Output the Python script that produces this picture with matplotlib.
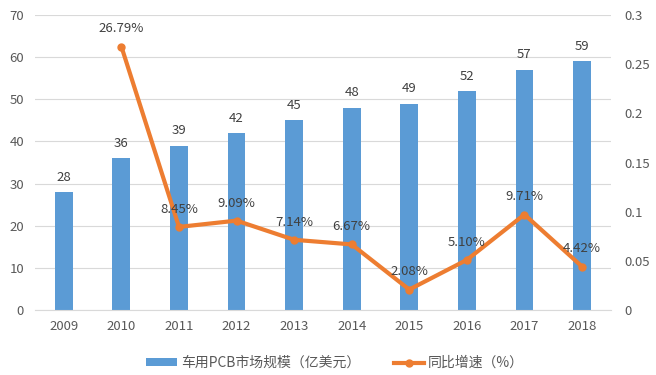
import numpy as np
import matplotlib.pyplot as plt
from matplotlib.ticker import FuncFormatter

plt.rcParams['font.family'] = ['Noto Sans CJK SC', 'DejaVu Sans']

years = ['2009', '2010', '2011', '2012', '2013', '2014', '2015', '2016', '2017', '2018']
market = [28, 36, 39, 42, 45, 48, 49, 52, 57, 59]
growth_years = years[1:]
growth = [0.2679, 0.0845, 0.0909, 0.0714, 0.0667, 0.0208, 0.0510, 0.0971, 0.0442]

bar_color = '#5b9bd5'
line_color = '#ed7d31'
text_color = '#595959'
grid_color = '#d9d9d9'

fig = plt.figure(figsize=(6.56, 3.75), dpi=100)
ax = fig.add_axes([0.0534, 0.1733, 0.8777, 0.7867])
ax2 = ax.twinx()

x = np.arange(len(years))
bars = ax.bar(x, market, width=0.31, color=bar_color, zorder=2,
              label='车用PCB市场规模（亿美元）')
for xi, v in zip(x, market):
    ax.annotate(str(v), (xi, v), xytext=(0, 6), textcoords='offset points',
                ha='center', va='bottom', fontsize=9.5, color='#404040')

ax.set_xlim(-0.5, len(years) - 0.5)
ax.set_ylim(0, 70)
ax.set_yticks(np.arange(0, 71, 10))
ax.set_xticks(x)
ax.set_xticklabels(years)
ax.grid(axis='y', color=grid_color, linewidth=0.8, zorder=0)
ax.set_axisbelow(True)

gx = x[1:]
line, = ax2.plot(gx, growth, color=line_color, linewidth=3, marker='o',
                 markersize=5, zorder=3, label='同比增速（%）')
for xi, v in zip(gx, growth):
    ax2.annotate(f'{v * 100:.2f}%', (xi, v), xytext=(0, 8), textcoords='offset points',
                 ha='center', va='bottom', fontsize=9.5, color='#404040')
ax2.set_ylim(0, 0.3)
ax2.set_yticks(np.arange(0, 0.301, 0.05))
ax2.yaxis.set_major_formatter(FuncFormatter(lambda v, p: '0' if abs(v) < 1e-9 else f'{v:g}'))

for a in (ax, ax2):
    for s in a.spines.values():
        s.set_visible(False)
    a.tick_params(length=0, colors=text_color, labelsize=9.5)
ax.spines['bottom'].set_visible(True)
ax.spines['bottom'].set_color(grid_color)
ax.tick_params(axis='x', pad=7)
ax.tick_params(axis='y', pad=8)
ax2.tick_params(axis='y', pad=10)

fig.legend(handles=[bars, line], loc='lower center', bbox_to_anchor=(0.511, -0.02),
           ncol=2, frameon=False, fontsize=10, labelcolor=text_color,
           handlelength=2.2, handleheight=0.5, columnspacing=2.4, handletextpad=0.3)

fig.savefig('out.png', dpi=100)
